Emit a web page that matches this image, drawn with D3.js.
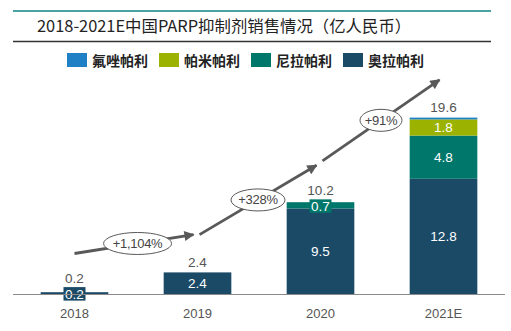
<!DOCTYPE html>
<html>
<head>
<meta charset="utf-8">
<script src="https://cdn.jsdelivr.net/npm/d3@7.9.0/dist/d3.min.js"></script>
<style>
  body { margin: 0; background: #fff; }
  text { font-family: "Liberation Sans", Arial, "Noto Sans CJK SC", sans-serif; }
  .cjk { font-family: "Noto Sans CJK SC", "Liberation Sans", sans-serif; }
</style>
</head>
<body>
<svg id="chart" width="511" height="331"></svg>
<script>
// Years on the x axis
const years = ["2018", "2019", "2020", "2021E"];

// Drug series, bottom of the stack first
const drugs = ["奥拉帕利", "尼拉帕利", "帕米帕利", "氟唑帕利"];
const olaparib = [0.2, 2.4, 9.5, 12.8];
const niraparib = [0, 0, 0.7, 4.8];
const pamiparib = [0, 0, 0, 1.8];
const fluzoparib = [0, 0, 0, 0.2];
const totals = [0.2, 2.4, 10.2, 19.6];

// Legend order differs from stacking order
const legendOrder = ["氟唑帕利", "帕米帕利", "尼拉帕利", "奥拉帕利"];
const colors = {
  "氟唑帕利": "#1f80c6",
  "帕米帕利": "#9bb200",
  "尼拉帕利": "#00776b",
  "奥拉帕利": "#1b4a67"
};

// Growth arrows: start/end level (in 亿) and the label
const growthLabels = ["+1,104%", "+328%", "+91%"];
const arrowStart = [4.5, 6.6, 14.8];
const arrowEnd = [6.6, 14.3, 23.8];

const svg = d3.select("#chart");

const x = d3.scaleBand().domain(years).range([13, 505]).paddingInner(0.45).paddingOuter(0.225);
const y = d3.scaleLinear().domain([0, 20]).range([294, 114]);

// Header rules and title
svg.append("line").attr("x1", 13).attr("x2", 491).attr("y1", 11).attr("y2", 11)
  .attr("stroke", "#4aa3a2").attr("stroke-width", 2);
svg.append("line").attr("x1", 13).attr("x2", 491).attr("y1", 41.5).attr("y2", 41.5)
  .attr("stroke", "#333").attr("stroke-width", 1.5);
svg.append("text").attr("class", "cjk")
  .attr("x", 37).attr("y", 32)
  .attr("font-size", 16.4).attr("fill", "#222")
  .text("2018-2021E中国PARP抑制剂销售情况（亿人民币）");

// Legend
const legend = svg.append("g").selectAll("g").data(legendOrder).join("g")
  .attr("transform", (d, i) => `translate(${67 + i * 92},53)`);
legend.append("rect").attr("width", 20).attr("height", 14).attr("fill", d => colors[d]);
legend.append("text").attr("class", "cjk")
  .attr("x", 25).attr("y", 12.5)
  .attr("font-size", 14).attr("font-weight", "bold").attr("fill", "#222")
  .text(d => d);

// Stack the series
const rows = years.map((yr, i) => ({
  year: yr,
  "奥拉帕利": olaparib[i],
  "尼拉帕利": niraparib[i],
  "帕米帕利": pamiparib[i],
  "氟唑帕利": fluzoparib[i]
}));
const series = d3.stack().keys(drugs)(rows);

const bars = svg.append("g");
series.forEach(s => {
  bars.selectAll(null).data(s.filter(d => d[1] - d[0] > 0)).join("rect")
    .attr("x", d => x(d.data.year))
    .attr("width", x.bandwidth())
    .attr("y", d => y(d[1]))
    .attr("height", d => y(d[0]) - y(d[1]))
    .attr("fill", colors[s.key]);
});

// Segment value labels; thin segments get a boxed label
const segLabels = svg.append("g");
const labelTop = years.map(() => Infinity);
series.forEach(s => {
  s.forEach((d, i) => {
    const v = d[1] - d[0];
    if (v <= 0 || s.key === "氟唑帕利") return;
    const cx = x(d.data.year) + x.bandwidth() / 2;
    const h = y(d[0]) - y(d[1]);
    const cy = (y(d[0]) + y(d[1])) / 2;
    let ty = cy + 4.5;
    if (h < 14) {
      const boxTop = Math.min(cy - 6, y(0) - 6);
      segLabels.append("rect")
        .attr("x", cx - 11).attr("y", boxTop)
        .attr("width", 22).attr("height", 13.5)
        .attr("fill", colors[s.key]);
      ty = boxTop + 11.5;
      labelTop[i] = Math.min(labelTop[i], boxTop);
    }
    segLabels.append("text")
      .attr("x", cx).attr("y", ty)
      .attr("text-anchor", "middle")
      .attr("font-size", 13.5).attr("fill", "#fff")
      .text(v.toFixed(1));
  });
});

// Totals above the bars, kept clear of any boxed label
svg.append("g").selectAll("text").data(years).join("text")
  .attr("x", d => x(d) + x.bandwidth() / 2)
  .attr("y", (d, i) => Math.min(y(totals[i]) - 5.5, labelTop[i] - 4))
  .attr("text-anchor", "middle")
  .attr("font-size", 13.5).attr("fill", "#555")
  .text((d, i) => totals[i].toFixed(1));

// Baseline and year labels
const axis = svg.append("g").attr("transform", `translate(0,${y(0)})`)
  .call(d3.axisBottom(x).tickSize(0).tickPadding(15));
axis.select(".domain").attr("d", "M13,0.5H505").attr("stroke", "#8a8a8a");
axis.selectAll("text").attr("font-size", 13).attr("fill", "#555")
  .attr("font-family", "'Liberation Sans', Arial, sans-serif");

// Growth arrows with ellipse callouts
const defs = svg.append("defs");
defs.append("marker").attr("id", "head")
  .attr("viewBox", "0 0 10 10").attr("refX", 9).attr("refY", 5)
  .attr("markerWidth", 4).attr("markerHeight", 3.6).attr("orient", "auto")
  .attr("markerUnits", "strokeWidth")
  .append("path").attr("d", "M0,0L10,5L0,10z").attr("fill", "#595959");

const arrows = svg.append("g");
growthLabels.forEach((lab, i) => {
  const x0 = x(years[i]) + x.bandwidth() / 2 + (i === 0 ? 0 : 2);
  const x1 = x(years[i + 1]) + x.bandwidth() / 2 - 4;
  const y0 = y(arrowStart[i]), y1 = y(arrowEnd[i]);
  arrows.append("line")
    .attr("x1", x0).attr("y1", y0).attr("x2", x1).attr("y2", y1)
    .attr("stroke", "#595959").attr("stroke-width", 2.8)
    .attr("marker-end", "url(#head)");
  const t = i === 0 ? 0.53 : 0.5;
  const ex = x0 + (x1 - x0) * t, ey = y0 + (y1 - y0) * t;
  const rx = [34, 27, 21][i];
  arrows.append("ellipse")
    .attr("cx", ex).attr("cy", ey).attr("rx", rx).attr("ry", 11)
    .attr("fill", "#fff").attr("stroke", "#595959").attr("stroke-width", 1);
  arrows.append("text")
    .attr("x", ex).attr("y", ey + 4.5)
    .attr("text-anchor", "middle")
    .attr("font-size", 13).attr("fill", "#444")
    .attr("letter-spacing", -0.3)
    .text(lab);
});
</script>
</body>
</html>
